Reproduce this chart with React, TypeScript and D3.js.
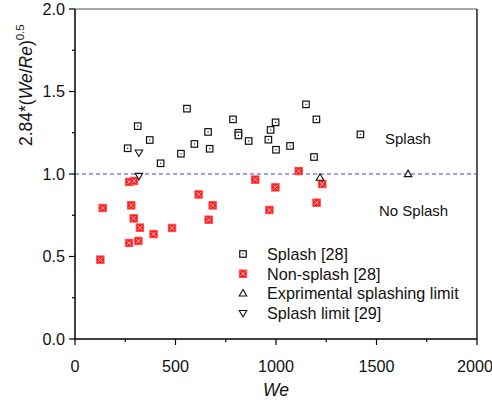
import React from "react";
import * as d3 from "d3";

const splashWe = [312, 262, 372, 426, 557, 527, 594, 662, 670, 786, 813, 813, 864, 962, 973, 998, 1000, 1070, 1149, 1201, 1189, 1420];
const splashY = [1.29, 1.156, 1.206, 1.065, 1.396, 1.123, 1.182, 1.255, 1.153, 1.331, 1.25, 1.234, 1.2, 1.208, 1.267, 1.313, 1.147, 1.17, 1.422, 1.331, 1.103, 1.24];

const nonSplashWe = [138, 126, 270, 294, 280, 292, 323, 269, 315, 391, 483, 615, 685, 665, 897, 997, 967, 1113, 1230, 1202];
const nonSplashY = [0.794, 0.481, 0.952, 0.958, 0.81, 0.731, 0.675, 0.582, 0.594, 0.636, 0.673, 0.876, 0.81, 0.723, 0.966, 0.919, 0.782, 1.018, 0.939, 0.826];

const expLimitWe = [1219, 1657];
const expLimitY = [0.978, 1.0];

const limitWe = [318, 318];
const limitY = [1.13, 0.988];

const xTicks = [0, 500, 1000, 1500, 2000];
const yTicks = [0.0, 0.5, 1.0, 1.5, 2.0];
const legendLabels = ["Splash [28]", "Non-splash [28]", "Exprimental splashing limit", "Splash limit [29]"];

const W = 492, H = 407;
const L = 75, T = 9, R = 477, B = 339;
const FONT = "Arial, 'Liberation Sans', sans-serif";

const x = d3.scaleLinear().domain([0, 2000]).range([L, R]);
const y = d3.scaleLinear().domain([0, 2]).range([B, T]);

function SquareDot({ cx, cy }: { cx: number; cy: number }) {
  const s = 6.5;
  return (
    <g>
      <rect x={cx - s / 2} y={cy - s / 2} width={s} height={s} fill="white" stroke="#111" strokeWidth={1.2} />
      <rect x={cx - 0.6} y={cy - 0.6} width={1.2} height={1.2} fill="#111" />
    </g>
  );
}

function RedCross({ cx, cy }: { cx: number; cy: number }) {
  const s = 7.5;
  const c = 2.2;
  return (
    <g>
      <rect x={cx - s / 2} y={cy - s / 2} width={s} height={s} fill="#ff1a1a" stroke="#ff4a4a" strokeWidth={0.9} />
      <path d={`M${cx - c},${cy - c}L${cx + c},${cy + c}M${cx - c},${cy + c}L${cx + c},${cy - c}`} stroke="#ffd0d0" strokeWidth={0.9} />
    </g>
  );
}

function TriUp({ cx, cy }: { cx: number; cy: number }) {
  const h = 6.5;
  return <path d={`M${cx},${cy - h * 0.6}L${cx + h * 0.58},${cy + h * 0.4}L${cx - h * 0.58},${cy + h * 0.4}Z`} fill="white" stroke="#111" strokeWidth={1.1} />;
}

function TriDown({ cx, cy }: { cx: number; cy: number }) {
  const h = 6.5;
  return <path d={`M${cx},${cy + h * 0.6}L${cx + h * 0.58},${cy - h * 0.4}L${cx - h * 0.58},${cy - h * 0.4}Z`} fill="white" stroke="#111" strokeWidth={1.1} />;
}

export default function App() {
  const xMinor = d3.range(250, 2000, 500);
  const yMinor = d3.range(0.25, 2, 0.5);
  const legX = 243, legTextX = 267, legY0 = 254, legDy = 19.7;
  const fs = 16.2;
  return (
    <svg width={W} height={H} style={{ position: "absolute", left: 0, top: 0, background: "white" }} fontFamily={FONT}>
      {/* frame */}
      <line x1={L} y1={T} x2={R} y2={T} stroke="#555" strokeWidth={1} />
      <line x1={R} y1={T} x2={R} y2={B} stroke="#000" strokeWidth={1.3} />
      {/* dashed line */}
      <line x1={x(0)} y1={y(1)} x2={x(2000)} y2={y(1)} stroke="#3344ff" strokeWidth={1.2} strokeDasharray="4,3" />

      {/* axes */}
      <line x1={L} y1={T} x2={L} y2={B} stroke="#000" strokeWidth={1.5} />
      <line x1={L} y1={B} x2={R} y2={B} stroke="#000" strokeWidth={1.5} />
      {xTicks.map((t) => (
        <g key={"xt" + t}>
          <line x1={x(t)} y1={B} x2={x(t)} y2={B + 6} stroke="#000" strokeWidth={1.2} />
          <text x={t === 2000 ? x(t) - 2 : x(t)} y={B + 33} textAnchor="middle" fontSize={fs} fill="#111">{t}</text>
        </g>
      ))}
      {xMinor.map((t) => (
        <line key={"xm" + t} x1={x(t)} y1={B} x2={x(t)} y2={B + 3} stroke="#000" strokeWidth={1.2} />
      ))}
      {yTicks.map((t) => (
        <g key={"yt" + t}>
          <line x1={L} y1={y(t)} x2={L - 6} y2={y(t)} stroke="#000" strokeWidth={1.2} />
          <text x={L - 10} y={y(t) + 5.8} textAnchor="end" fontSize={fs} fill="#111">{t.toFixed(1)}</text>
        </g>
      ))}
      {yMinor.map((t) => (
        <line key={"ym" + t} x1={L} y1={y(t)} x2={L - 3} y2={y(t)} stroke="#000" strokeWidth={1.2} />
      ))}

      {/* axis titles */}
      <text x={276} y={396} textAnchor="middle" fontSize={17.5} fontStyle="italic" fill="#111">We</text>
      <text transform="translate(32,146) rotate(-90)" fontSize={17.5} fill="#111">
        2.84*(<tspan fontStyle="italic">We</tspan>/<tspan fontStyle="italic">Re</tspan>)
        <tspan fontSize={11.5} dy={-8}>0.5</tspan>
      </text>

      {/* annotations */}
      <text x={385} y={144} fontSize={15} fill="#111">Splash</text>
      <text x={379} y={216} fontSize={15} fill="#111">No Splash</text>

      {/* data */}
      {splashWe.map((v, i) => <SquareDot key={"s" + i} cx={x(v)} cy={y(splashY[i])} />)}
      {nonSplashWe.map((v, i) => <RedCross key={"n" + i} cx={x(v)} cy={y(nonSplashY[i])} />)}
      {expLimitWe.map((v, i) => <TriUp key={"e" + i} cx={x(v)} cy={y(expLimitY[i])} />)}
      {limitWe.map((v, i) => <TriDown key={"l" + i} cx={x(v)} cy={y(limitY[i])} />)}

      {/* legend */}
      <SquareDot cx={legX} cy={legY0} />
      <RedCross cx={legX} cy={legY0 + legDy} />
      <TriUp cx={legX} cy={legY0 + 2 * legDy} />
      <TriDown cx={legX} cy={legY0 + 3 * legDy} />
      {legendLabels.map((lab, i) => (
        <text key={lab} x={legTextX} y={legY0 + i * legDy + 5.8} fontSize={fs} fill="#111">{lab}</text>
      ))}
    </svg>
  );
}
